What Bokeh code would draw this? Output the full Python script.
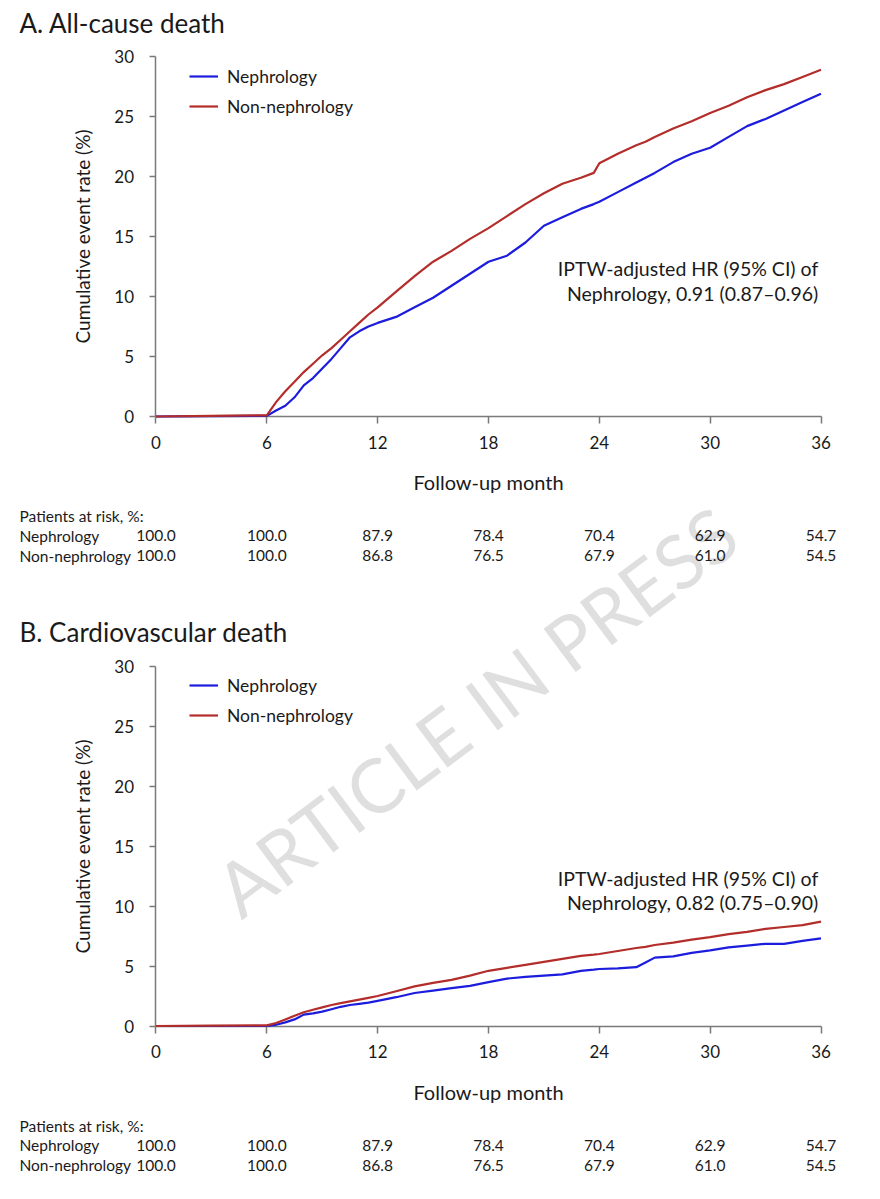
from bokeh.plotting import figure
from bokeh.models import (Range1d, Label, Legend, LegendItem, FixedTicker, LinearAxis)
from bokeh.embed import file_html
from bokeh.resources import INLINE

FONT = "Lato"
TEXT = "#1a1a1a"
BLUE = "#1c1cdc"
RED = "#b32d2a"
AXIS = "#7a7a7a"

# Follow-up months and cumulative event rates (%)
months = [0, 3, 6.0, 6.5, 7, 7.5, 8, 8.5, 9, 9.5, 10, 10.5, 11, 11.5, 12,
          13, 14, 15, 16, 17, 18, 19, 20, 21, 22, 23, 23.7, 24, 25, 26, 26.5,
          27, 28, 29, 30, 31, 32, 33, 34, 35, 36]

allcause_neph = [0, 0.03, 0.05, 0.5, 0.9, 1.6, 2.6, 3.2, 4.0, 4.8, 5.7, 6.6, 7.1, 7.5, 7.8,
                 8.3, 9.1, 9.9, 10.9, 11.9, 12.9, 13.4, 14.5, 15.9, 16.6, 17.3, 17.7, 17.9,
                 18.7, 19.5, 19.9, 20.3, 21.2, 21.9, 22.4, 23.3, 24.2, 24.8, 25.5, 26.2, 26.9]
allcause_non = [0, 0.05, 0.1, 1.2, 2.1, 2.9, 3.7, 4.4, 5.1, 5.7, 6.4, 7.1, 7.8, 8.5, 9.1,
                10.4, 11.7, 12.9, 13.8, 14.8, 15.7, 16.7, 17.7, 18.6, 19.4, 19.9, 20.3, 21.1,
                21.9, 22.6, 22.9, 23.3, 24.0, 24.6, 25.3, 25.9, 26.6, 27.2, 27.7, 28.3, 28.9]

cv_neph = [0, 0, 0, 0.1, 0.3, 0.55, 0.95, 1.05, 1.2, 1.4, 1.6, 1.75, 1.85, 1.95, 2.1,
           2.4, 2.75, 2.95, 3.15, 3.35, 3.65, 3.95, 4.1, 4.2, 4.3, 4.6, 4.7, 4.75,
           4.8, 4.9, 5.3, 5.7, 5.8, 6.1, 6.3, 6.55, 6.7, 6.85, 6.85, 7.1, 7.3]
cv_non = [0, 0.03, 0.05, 0.25, 0.55, 0.85, 1.15, 1.35, 1.55, 1.75, 1.9, 2.05, 2.2, 2.35, 2.5,
          2.9, 3.3, 3.6, 3.85, 4.2, 4.6, 4.85, 5.1, 5.35, 5.6, 5.85, 5.95, 6.0,
          6.25, 6.5, 6.6, 6.75, 6.95, 7.2, 7.4, 7.65, 7.85, 8.1, 8.25, 8.4, 8.7]

# Patients at risk table
risk_months = [0, 6, 12, 18, 24, 30, 36]
risk_neph = ["100.0", "100.0", "87.9", "78.4", "70.4", "62.9", "54.7"]
risk_non = ["100.0", "100.0", "86.8", "76.5", "67.9", "61.0", "54.5"]

x_ticks = [0, 6, 12, 18, 24, 30, 36]
y_ticks = [0, 5, 10, 15, 20, 25, 30]

series_names = ["Nephrology", "Non-nephrology"]

# One canvas holds both panels; panel B uses its own y range.
p = figure(width=880, height=1199, output_backend="svg", toolbar_location=None,
           x_range=Range1d(-8.418, 39.221), y_range=Range1d(-65.25, 34.667),
           x_axis_location=None, y_axis_location=None, min_border=0)
p.extra_y_ranges = {"b": Range1d(-14.458, 85.458)}
p.grid.visible = False
p.outline_line_color = None

# watermark
p.add_layout(Label(x=17.3, y=-24.5, text="ARTICLE IN PRESS", text_font=FONT,
                   text_font_size="75px", text_color="#dfdfdf", text_align="center",
                   text_baseline="middle", angle=0.64, level="underlay"))


def style_axis(ax):
    ax.axis_line_color = AXIS
    ax.axis_line_width = 1.5
    ax.major_tick_line_color = AXIS
    ax.major_tick_line_width = 1.5
    ax.major_tick_in = 0
    ax.minor_tick_line_color = None
    ax.major_label_text_font = FONT
    ax.major_label_text_font_size = "17px"
    ax.major_label_text_color = TEXT
    ax.axis_label_text_font = FONT
    ax.axis_label_text_font_size = "20px"
    ax.axis_label_text_font_style = "normal"
    ax.axis_label_text_color = TEXT


def label(x, y, text, size, align="left", rng="default"):
    p.add_layout(Label(x=x, y=y, text=text, text_font=FONT, text_font_size=f"{size}px",
                       text_color=TEXT, text_align=align, text_baseline="alphabetic",
                       y_range_name=rng))


def panel(rng, title, neph, non, hr_text, legend_y):
    xa = LinearAxis(y_range_name=rng, fixed_location=0, bounds=(0, 36),
                    ticker=FixedTicker(ticks=x_ticks), axis_label="Follow-up month")
    style_axis(xa)
    xa.major_tick_out = 7
    xa.major_label_standoff = 12
    xa.axis_label_standoff = 18
    p.add_layout(xa, "below")

    ya = LinearAxis(y_range_name=rng, fixed_location=0, bounds=(0, 30),
                    ticker=FixedTicker(ticks=y_ticks), axis_label="Cumulative event rate (%)")
    style_axis(ya)
    ya.axis_label_text_font_size = "19px"
    ya.major_tick_out = 6
    ya.major_label_standoff = 16
    ya.axis_label_standoff = 17
    p.add_layout(ya, "left")

    r1 = p.line(months, neph, line_color=BLUE, line_width=2.2, level="overlay",
                y_range_name=rng)
    r2 = p.line(months, non, line_color=RED, line_width=2.2, level="overlay",
                y_range_name=rng)

    leg = Legend(items=[LegendItem(label=series_names[0], renderers=[r1]),
                        LegendItem(label=series_names[1], renderers=[r2])],
                 location=(189, legend_y), orientation="vertical", padding=0, margin=0,
                 spacing=6, glyph_width=29, glyph_height=24, label_height=24,
                 label_standoff=9, label_text_font=FONT, label_text_font_size="17.5px",
                 label_text_color=TEXT, background_fill_alpha=0, border_line_color=None)
    p.add_layout(leg)

    label(-7.39, 32.8, title, 26, rng=rng)
    label(35.85, 12.3, hr_text[0], 19.5, align="right", rng=rng)
    label(35.85, 10.28, hr_text[1], 19.5, align="right", rng=rng)

    label(-7.39, -8.3, "Patients at risk, %:", 15.5, rng=rng)
    label(-7.39, -9.95, series_names[0], 15.5, rng=rng)
    label(-7.39, -11.62, series_names[1], 15.5, rng=rng)
    for m, a, b in zip(risk_months, risk_neph, risk_non):
        label(m, -9.95, a, 15.5, align="center", rng=rng)
        label(m, -11.62, b, 15.5, align="center", rng=rng)


panel("default", "A. All-cause death", allcause_neph, allcause_non,
      ["IPTW-adjusted HR (95% CI) of", "Nephrology, 0.91 (0.87\u20130.96)"], 1081)
panel("b", "B. Cardiovascular death", cv_neph, cv_non,
      ["IPTW-adjusted HR (95% CI) of", "Nephrology, 0.82 (0.75\u20130.90)"], 472)

open("out.html", "w").write(file_html(p, INLINE))
